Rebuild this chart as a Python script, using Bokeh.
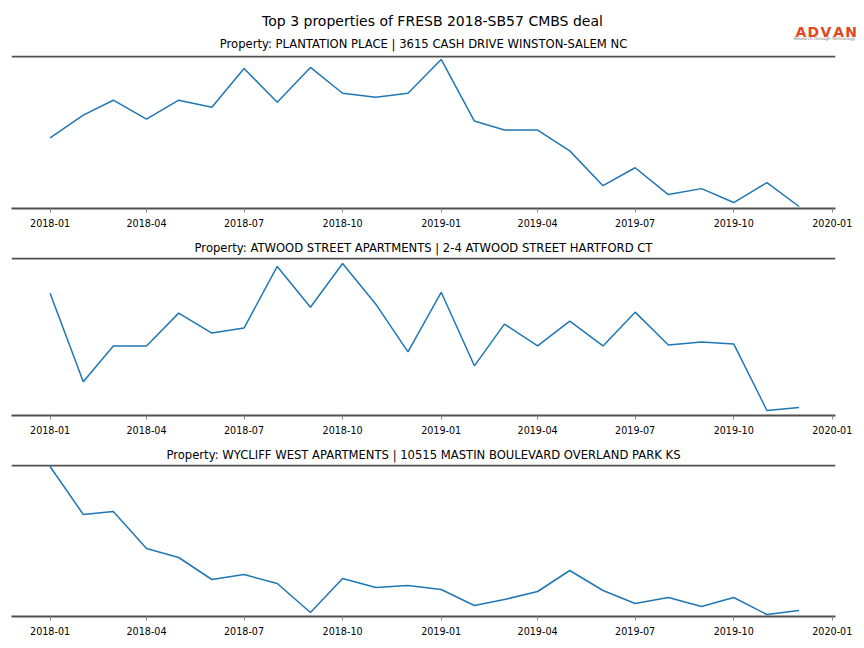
import pandas as pd
from bokeh.plotting import figure
from bokeh.layouts import column, row
from bokeh.models import FixedTicker, DatetimeTickFormatter, Span, Range1d
from bokeh.embed import file_html
from bokeh.resources import INLINE
from bokeh.core.properties import value

# ---------------- data ----------------
months = ["2018-01", "2018-02", "2018-03", "2018-04", "2018-05", "2018-06",
          "2018-07", "2018-08", "2018-09", "2018-10", "2018-11", "2018-12",
          "2019-01", "2019-02", "2019-03", "2019-04", "2019-05", "2019-06",
          "2019-07", "2019-08", "2019-09", "2019-10", "2019-11", "2019-12"]

plantation = [71, 94, 109, 90, 109, 102, 141, 107, 142, 116, 112, 116,
              150, 88, 79, 79, 58, 23, 41, 14, 20, 6, 26, 2]
atwood = [123, 34, 70, 70, 103, 83, 88, 150, 109, 153, 112, 64,
          124, 50, 92, 70, 95, 70, 104, 71, 74, 72, 5, 8]
wycliff = [150, 102, 105, 68, 59, 37, 42, 33, 4, 38, 29, 31,
           27, 11, 17, 25, 46, 26, 13, 19, 10, 19, 2, 6]

tick_labels = ["2018-01", "2018-04", "2018-07", "2018-10", "2019-01",
               "2019-04", "2019-07", "2019-10", "2020-01"]

main_title = "Top 3 properties of FRESB 2018-SB57 CMBS deal"
panel_titles = [
    "Property: PLANTATION PLACE | 3615 CASH DRIVE WINSTON-SALEM NC",
    "Property: ATWOOD STREET APARTMENTS | 2-4 ATWOOD STREET HARTFORD CT",
    "Property: WYCLIFF WEST APARTMENTS | 10515 MASTIN BOULEVARD OVERLAND PARK KS",
]
logo_text = "ADVAN"
logo_tagline = "Research through Technology"
series = [plantation, atwood, wycliff]
y_tops = [154, 159, 152]

# ---------------- styling / geometry ----------------
FONT = "DejaVu Sans"
LINE = "#1f77b4"
SPINE = "#505050"
LOGO = "#e2481f"
LEFT, FRAME_W, RIGHT = 11, 824, 25
HEADER_H = 55
TITLE_W, LOGO_W = 790, 74
frame_heights = [153, 158, 152]
tops = [0, 22, 22]
bottoms = [27, 27, 28]

dates = pd.to_datetime(months)
ticks = [pd.Timestamp(t).value / 1e6 for t in tick_labels]
x_start = pd.Timestamp("2017-11-26").value / 1e6
x_end = pd.Timestamp("2020-01-04").value / 1e6

fmt = "%Y-%m"
tick_fmt = DatetimeTickFormatter(milliseconds=fmt, seconds=fmt, minsec=fmt, minutes=fmt,
                                 hourmin=fmt, hours=fmt, days=fmt, months=fmt, years=fmt)


def blank(width, x0):
    f = figure(width=width, height=HEADER_H,
               x_range=Range1d(x0, x0 + width), y_range=Range1d(0, HEADER_H),
               toolbar_location=None, output_backend="svg",
               x_axis_location=None, y_axis_location=None,
               min_border=0, outline_line_color=None)
    f.grid.visible = False
    return f


# header: data coords == page pixels (y measured upward from header bottom)
title_fig = blank(TITLE_W, 0)
title_fig.text(x=[432], y=[HEADER_H - 20], text=[main_title], text_font=value(FONT),
               text_font_size="14px", text_align="center", text_baseline="middle",
               text_color="black")
title_fig.text(x=[LEFT + FRAME_W / 2], y=[HEADER_H - 43], text=[panel_titles[0]],
               text_font=value(FONT), text_font_size="11.6px", text_align="center",
               text_baseline="middle", text_color="black")

logo_fig = blank(LOGO_W, TITLE_W)
letters = list(logo_text)
step = 12.6
logo_fig.text(x=[794 + step * (k + 0.5) for k in range(len(letters))],
              y=[HEADER_H - 31.5] * len(letters), text=letters,
              text_font=value(FONT), text_font_size="14px", text_font_style="bold",
              text_align="center", text_baseline="alphabetic", text_color=LOGO)
logo_fig.text(x=[793], y=[HEADER_H - 37.5], text=[logo_tagline], text_font=value(FONT),
              text_font_size="4.2px", text_align="left", text_baseline="middle",
              text_color="#777777")

figs = [row(title_fig, logo_fig, spacing=0)]
for i in range(3):
    p = figure(frame_width=FRAME_W, frame_height=frame_heights[i],
               x_axis_type="datetime",
               x_range=Range1d(x_start, x_end), y_range=Range1d(0, y_tops[i]),
               toolbar_location=None, output_backend="svg",
               y_axis_location=None, outline_line_color=None,
               min_border_left=LEFT, min_border_right=RIGHT,
               min_border_top=tops[i], min_border_bottom=bottoms[i])
    p.grid.visible = False
    if i > 0:
        p.title.text = panel_titles[i]
        p.title.align = "center"
        p.title.text_font = FONT
        p.title.text_font_size = "11.6px"
        p.title.text_font_style = "normal"
        p.title.text_color = "black"
        p.title.standoff = 6
    ax = p.xaxis[0]
    ax.ticker = FixedTicker(ticks=ticks)
    ax.formatter = tick_fmt
    ax.axis_line_width = 2
    ax.axis_line_color = SPINE
    ax.major_tick_line_color = "#888888"
    ax.major_tick_line_width = 1
    ax.major_tick_out = 4
    ax.major_tick_in = 0
    ax.minor_tick_line_color = None
    ax.major_label_text_font = FONT
    ax.major_label_text_font_size = "9.6px"
    ax.major_label_text_color = "black"
    ax.major_label_standoff = 6
    p.add_layout(Span(location=y_tops[i] - 1, dimension="width",
                      line_color=SPINE, line_width=2))
    p.line(dates, series[i], line_color=LINE, line_width=1.5)
    figs.append(p)

layout = column(*figs, spacing=0)
open("out.html", "w").write(file_html(layout, INLINE))
